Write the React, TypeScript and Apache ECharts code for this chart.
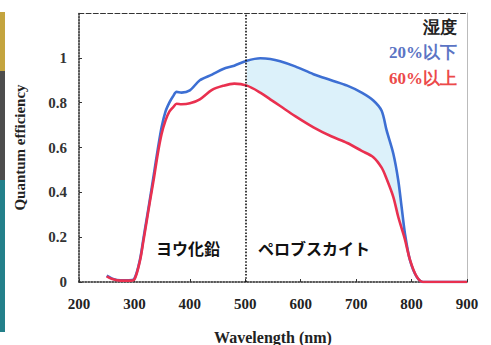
import React, { useEffect, useRef } from "react";
import * as echarts from "echarts";

const wavelengths = [250, 260, 275, 290, 300, 310, 316, 322, 328, 335, 342, 349, 356, 363, 370, 376, 385, 400, 418, 440, 460, 480, 503, 527, 545, 563, 590, 623, 655, 684, 710, 731, 746, 755, 767, 776, 782, 788, 797, 809, 821, 850, 900];
const humidityLow = [0.028, 0.015, 0.008, 0.008, 0.015, 0.1, 0.19, 0.28, 0.37, 0.48, 0.59, 0.69, 0.76, 0.8, 0.83, 0.848, 0.845, 0.855, 0.9, 0.925, 0.95, 0.965, 0.987, 0.998, 0.995, 0.985, 0.962, 0.927, 0.9, 0.876, 0.845, 0.81, 0.764, 0.676, 0.573, 0.453, 0.335, 0.217, 0.098, 0.024, 0, 0, 0];
const humidityHigh = [0.025, 0.013, 0.006, 0.006, 0.012, 0.095, 0.18, 0.27, 0.36, 0.46, 0.57, 0.66, 0.72, 0.76, 0.78, 0.795, 0.793, 0.797, 0.815, 0.857, 0.875, 0.885, 0.876, 0.845, 0.815, 0.785, 0.74, 0.69, 0.65, 0.62, 0.585, 0.557, 0.51, 0.46, 0.38, 0.29, 0.24, 0.19, 0.1, 0.025, 0, 0, 0];
const yTicks = [0, 0.2, 0.4, 0.6, 0.8, 1];
const xTicks = [200, 300, 400, 500, 600, 700, 800, 900];
const bandStart = 500;
const bandEnd = 800;

const serif = "'Liberation Serif', 'DejaVu Serif', serif";
const cjk = "'Noto Sans CJK JP', sans-serif";

export default function App() {
  const ref = useRef<HTMLDivElement>(null);
  useEffect(() => {
    document.body.style.margin = "0";
    const chart = echarts.init(ref.current!, null, { renderer: "svg" });
    const lowPairs = wavelengths.map((w, i) => [w, humidityLow[i]]);
    const highPairs = wavelengths.map((w, i) => [w, humidityHigh[i]]);
    const idx = wavelengths.map((w, i) => i).filter((i) => wavelengths[i] >= bandStart && wavelengths[i] <= bandEnd);
    chart.setOption({
      animation: false,
      backgroundColor: "#ffffff",
      grid: { left: 79, right: 24, top: 13, bottom: 63, outerBoundsMode: "none", containLabel: false },
      xAxis: [
        {
          type: "value", min: 200, max: 900, interval: 100,
          name: "Wavelength (nm)", nameLocation: "middle", nameGap: 47,
          nameTextStyle: { fontFamily: serif, fontWeight: "bold", fontSize: 16, color: "#222" },
          axisLine: { show: true, onZero: false, lineStyle: { color: "#222", type: "dotted", width: 1.5 } },
          axisTick: { show: true, inside: true, length: 3, lineStyle: { color: "#333" } },
          axisLabel: { fontFamily: serif, fontWeight: "bold", fontSize: 15, color: "#222", margin: 14, formatter: (v: number) => (xTicks.includes(v) ? String(v) : "") },
          splitLine: { show: false },
        },
        {
          type: "value", min: 200, max: 900, position: "top",
          axisLine: { show: true, onZero: false, lineStyle: { color: "#333", type: "dashed", width: 1.2 } },
          axisTick: { show: false }, axisLabel: { show: false }, splitLine: { show: false },
        },
      ],
      yAxis: [
        {
          type: "value", min: 0, max: 1.2, interval: 0.2,
          name: "Quantum efficiency", nameLocation: "middle", nameGap: 52,
          nameTextStyle: { fontFamily: serif, fontWeight: "bold", fontSize: 15, color: "#222" },
          axisLine: { show: true, onZero: false, lineStyle: { color: "#222", type: "dotted", width: 1.5 } },
          axisTick: { show: true, inside: true, length: 3, lineStyle: { color: "#333" } },
          axisLabel: {
            fontFamily: serif, fontWeight: "bold", fontSize: 15, color: "#333", margin: 12,
            formatter: (v: number) => {
              const t = yTicks.find((k) => Math.abs(k - v) < 1e-6);
              return t === undefined ? "" : String(t);
            },
          },
          splitLine: { show: false },
        },
        {
          type: "value", min: 0, max: 1.2, position: "right",
          axisLine: { show: true, onZero: false, lineStyle: { color: "#bbb", width: 1 } },
          axisTick: { show: false }, axisLabel: { show: false }, splitLine: { show: false },
        },
      ],
      series: [
        {
          name: "band", type: "custom", silent: true, z: 1,
          data: [[bandStart, 0]],
          encode: { x: 0, y: 1 },
          renderItem: (params: any, api: any) => {
            const top = idx.map((i) => api.coord([wavelengths[i], humidityLow[i]]));
            const bottom = idx.slice().reverse().map((i) => api.coord([wavelengths[i], humidityHigh[i]]));
            return {
              type: "polygon",
              shape: { points: top.concat(bottom) },
              style: { fill: "#dcf1fa", stroke: "none" },
            };
          },
        },
        {
          name: "20%以下", type: "line", data: lowPairs, smooth: 0.3, showSymbol: false, z: 3,
          lineStyle: { color: "#3d6fd3", width: 2.6 },
          markLine: {
            silent: true, symbol: "none", label: { show: false },
            lineStyle: { color: "#111", type: "dotted", width: 1.6 },
            data: [{ xAxis: 500 }],
          },
        },
        {
          name: "60%以上", type: "line", data: highPairs, smooth: 0.3, showSymbol: false, z: 3,
          lineStyle: { color: "#e9304f", width: 2.6 },
        },
      ],
      graphic: [
        { type: "rect", shape: { x: 0, y: 12, width: 5, height: 59 }, style: { fill: "#c4a43e" } },
        { type: "rect", shape: { x: 0, y: 71, width: 5, height: 109 }, style: { fill: "#4d4d4d" } },
        { type: "rect", shape: { x: 0, y: 180, width: 5, height: 152 }, style: { fill: "#23808a" } },
        { type: "text", z: 100, left: 156, top: 240, style: { text: "ヨウ化鉛", font: `bold 16px ${cjk}`, fill: "#111", letterSpacing: 4 } },
        { type: "text", z: 100, left: 258, top: 240, style: { text: "ペロブスカイト", font: `bold 16px ${cjk}`, fill: "#111", letterSpacing: 4 } },
        { type: "text", z: 100, right: 34, top: 19, style: { text: "湿度", font: `bold 17px ${serif}`, fill: "#222" } },
        { type: "text", z: 100, right: 34, top: 44, style: { text: "20%以下", font: `bold 17px ${serif}`, fill: "#5b74c4" } },
        { type: "text", z: 100, right: 34, top: 70, style: { text: "60%以上", font: `bold 17px ${serif}`, fill: "#ec4a4a" } },
      ],
    });
    return () => chart.dispose();
  }, []);
  return <div ref={ref} style={{ width: 491, height: 345 }} />;
}
